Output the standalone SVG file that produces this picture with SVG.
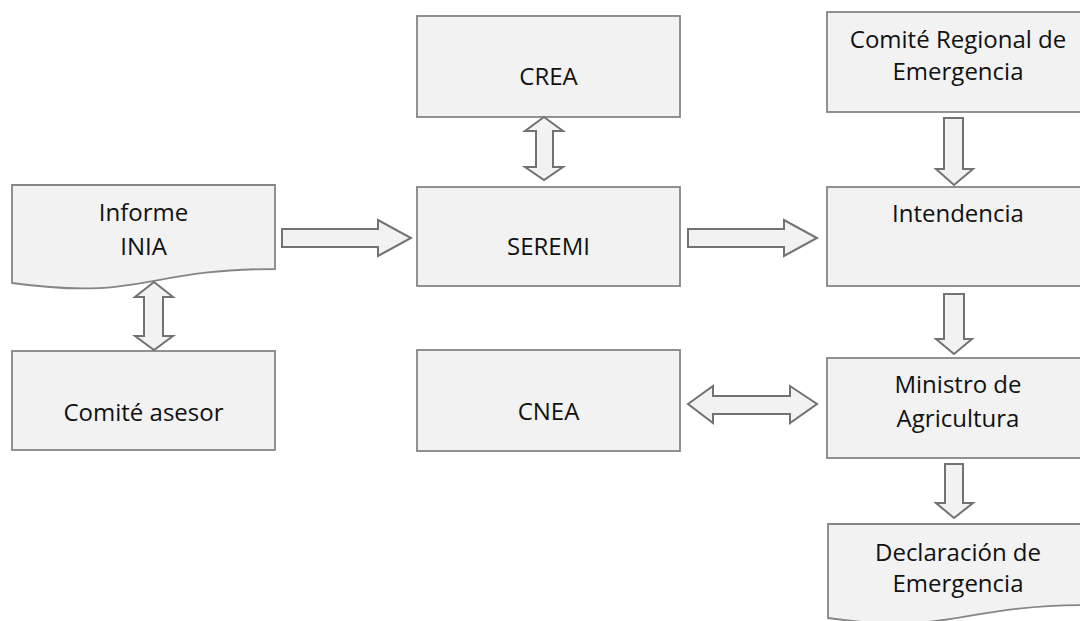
<svg xmlns="http://www.w3.org/2000/svg" width="1080" height="621" viewBox="0 0 1080 621">
<style>
.box{fill:#f2f2f2;stroke:#858585;stroke-width:1.8}
.arr{fill:#f2f2f2;stroke:#727272;stroke-width:2;stroke-linejoin:miter}
text{font-family:"Open Sans","Noto Sans","Liberation Sans",sans-serif;font-size:24px;fill:#111;text-anchor:middle}
</style>
<rect width="1080" height="621" fill="#ffffff"/>
<g id="informe">
<path class="box" d="M12,185 H275 V269 C143.5,269 143.5,301 12,283 Z"/>
<text x="143.5" y="221">Informe</text>
<text x="143.5" y="255">INIA</text>
</g>
<g id="comite-asesor">
<rect class="box" x="12" y="351" width="263" height="99"/>
<text x="143.5" y="421">Comité asesor</text>
</g>
<g id="crea">
<rect class="box" x="417" y="16" width="263" height="101"/>
<text x="548.5" y="85">CREA</text>
</g>
<g id="seremi">
<rect class="box" x="417" y="187" width="263" height="99"/>
<text x="548.5" y="255">SEREMI</text>
</g>
<g id="cnea">
<rect class="box" x="417" y="350" width="263" height="101"/>
<text x="548.5" y="420">CNEA</text>
</g>
<g id="comite-regional">
<rect class="box" x="827" y="12" width="260" height="100"/>
<text x="958" y="48">Comité Regional de</text>
<text x="958" y="80">Emergencia</text>
</g>
<g id="intendencia">
<rect class="box" x="827" y="187" width="260" height="99"/>
<text x="958" y="222">Intendencia</text>
</g>
<g id="ministro">
<rect class="box" x="827" y="358" width="260" height="100"/>
<text x="958" y="393">Ministro de</text>
<text x="958" y="427">Agricultura</text>
</g>
<g id="declaracion">
<path class="box" d="M828,524 H1090 V605 C955,605 955,636 828,618 Z"/>
<text x="958" y="561">Declaración de</text>
<text x="958" y="592">Emergencia</text>
</g>
<g id="connectors">
<path class="arr" d="M282,229 H378 V220 L411,238 L378,256 V247 H282 Z"/>
<path class="arr" d="M688,229 H784 V220 L817,238 L784,256 V247 H688 Z"/>
<path class="arr" d="M154,282 L173,297 H163 V336 H173 L154,350 L135,336 H144 V297 H135 Z"/>
<path class="arr" d="M544,117 L563,131 H553 V167 H563 L544,180 L525,167 H536 V131 H525 Z"/>
<path class="arr" d="M688,404 L713,386 V396 H790 V386 L817,404 L790,423 V414 H713 V423 Z"/>
<path class="arr" d="M944,118 H963 V169 H973 L954,185 L936,169 H944 Z"/>
<path class="arr" d="M944,294 H964 V339 H972 L954,354 L936,339 H944 Z"/>
<path class="arr" d="M945,464 H963 V503 H973 L954,518 L936,503 H945 Z"/>
</g>
</svg>
